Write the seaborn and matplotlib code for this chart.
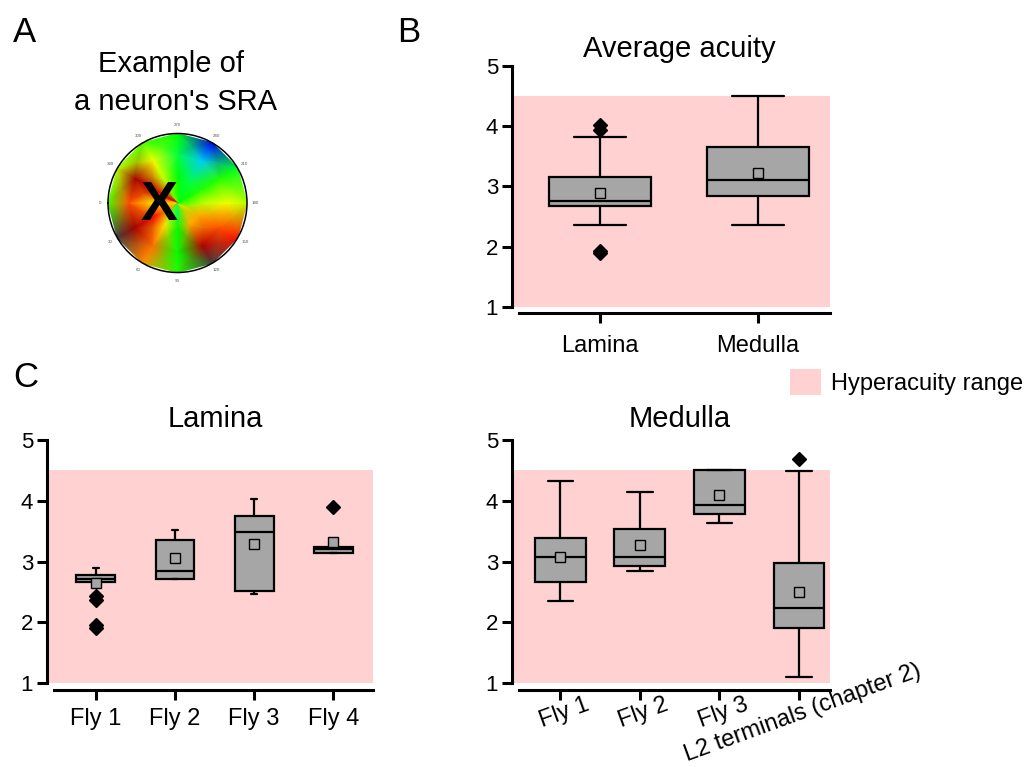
import numpy as np
import pandas as pd
import matplotlib
matplotlib.use("Agg")
import matplotlib.pyplot as plt
from matplotlib.colors import LinearSegmentedColormap
import seaborn as sns

# ---------------------------------------------------------------------------
# Data
# ---------------------------------------------------------------------------
region_labels = ["Lamina", "Medulla"]
lamina_fly_labels = ["Fly 1", "Fly 2", "Fly 3", "Fly 4"]
medulla_fly_labels = ["Fly 1", "Fly 2", "Fly 3", "L2 terminals (chapter 2)"]

# Average acuity of every recorded neuron, pooled per neuropil
lamina_all = [1.90, 1.93, 2.36, 2.67, 2.68, 2.70, 2.76, 2.76, 2.77, 3.15, 3.82, 3.93, 4.01]
medulla_all = [2.35, 2.60, 2.84, 2.95, 3.11, 3.30, 3.65, 3.68, 4.50]

# Acuity split by fly
lamina_fly1 = [1.91, 1.95, 2.37, 2.44, 2.66, 2.71, 2.72, 2.72, 2.72,
               2.77, 2.78, 2.78, 2.78, 2.88, 2.89, 2.90, 2.90]
lamina_fly2 = [2.71, 2.71, 2.72, 2.80, 2.85, 3.30, 3.36, 3.48, 3.52]
lamina_fly3 = [2.46, 2.49, 2.52, 3.43, 3.49, 3.60, 3.75, 3.85, 4.02]
lamina_fly4 = [3.14, 3.14, 3.20, 3.23, 3.89]

medulla_fly1 = [2.35, 2.50, 2.67, 2.90, 3.07, 3.15, 3.38, 3.38, 4.32]
medulla_fly2 = [2.84, 2.88, 2.92, 3.00, 3.07, 3.30, 3.54, 3.74, 4.14]
medulla_fly3 = [3.63, 3.70, 3.78, 3.86, 3.93, 4.50, 4.50, 4.50, 4.50]
medulla_l2 = [1.10, 1.30, 1.60, 1.91, 1.95, 2.05, 2.24, 2.30, 2.50,
              2.97, 3.41, 4.49, 4.68]

hyperacuity_range = (1.0, 4.5)
acuity_ticks = [1, 2, 3, 4, 5]

# Example spatial receptive-field acuity (SRA) map of one neuron:
# value per direction (deg) and normalised radius
sra_theta_deg = [0, 30, 60, 90, 120, 150, 180, 210, 240, 270, 300, 330, 360]
sra_radius = [0.0, 0.35, 0.7, 1.0]
sra_values = [
    # r=0   r=.35  r=.7  r=1
    [0.70, 0.68, 0.78, 0.55],   # 0
    [0.68, 0.82, 0.95, 1.05],   # 30
    [0.48, 0.68, 0.76, 0.74],   # 60
    [0.42, 0.50, 0.50, 0.52],   # 90
    [0.55, 0.72, 0.93, 1.06],   # 120
    [0.62, 0.72, 0.78, 0.82],   # 150
    [0.52, 0.62, 0.66, 0.62],   # 180
    [0.50, 0.52, 0.52, 0.48],   # 210
    [0.50, 0.45, 0.30, 0.14],   # 240
    [0.52, 0.50, 0.46, 0.50],   # 270
    [0.55, 0.62, 0.66, 0.55],   # 300
    [0.90, 0.88, 0.95, 0.62],   # 330
    [0.70, 0.68, 0.78, 0.55],   # 360
]

# ---------------------------------------------------------------------------
# Style
# ---------------------------------------------------------------------------
sns.set_style("ticks")
plt.rcParams["font.family"] = ["Liberation Sans", "DejaVu Sans"]
for key in ("text.color", "axes.labelcolor", "axes.edgecolor",
            "xtick.color", "ytick.color"):
    plt.rcParams[key] = "black"

BOX_GRAY = "#a6a6a6"
PINK = "#ffd1d1"
W, H = 1029, 767

fig = plt.figure(figsize=(W / 100, H / 100), dpi=100)


def fx(px):
    return px / W


def fy(py):
    return 1 - py / H


def rect(left, top, right, bottom):
    return [fx(left), fy(bottom), fx(right) - fx(left), fy(top) - fy(bottom)]


def acuity_boxes(ax, groups, labels, width, xlim, capwidth=None,
                 rotate=False):
    df = pd.DataFrame({
        "group": np.concatenate([[lab] * len(g) for lab, g in zip(labels, groups)]),
        "acuity": np.concatenate(groups),
    })
    kw = {}
    if capwidth is not None:
        kw["capwidths"] = capwidth
    sns.boxplot(
        data=df, x="group", y="acuity", order=labels, ax=ax,
        color=BOX_GRAY, saturation=1, width=width, linewidth=1.6,
        linecolor="black", showmeans=True,
        meanprops=dict(marker="s", markerfacecolor=BOX_GRAY,
                       markeredgecolor="black", markersize=6.5,
                       markeredgewidth=1.0),
        flierprops=dict(marker="D", markerfacecolor="black",
                        markeredgecolor="black", markersize=6.8),
        **kw,
    )
    span_artist = ax.axhspan(*hyperacuity_range, color=PINK, lw=0, zorder=0,
                             label="Hyperacuity range")
    if ax.get_legend() is not None:
        ax.get_legend().remove()
    ax.set_xlim(*xlim)
    ax.set_ylim(1, 5)
    ax.set_yticks(acuity_ticks)
    ax.set_xlabel("")
    ax.set_ylabel("")
    ax.set_facecolor("none")
    sns.despine(ax=ax)
    for side in ("left", "bottom"):
        ax.spines[side].set_linewidth(2.2)
    ax.spines["bottom"].set_position(("outward", 4.5))
    span = xlim[1] - xlim[0]
    ax.spines["bottom"].set_bounds(xlim[0] + span * 0.022, xlim[1])
    ax.tick_params(axis="both", direction="out", length=7, width=2.2,
                   color="black")
    ax.tick_params(axis="y", labelsize=16, pad=3)
    ax.tick_params(axis="x", labelsize=17, pad=2.5 if rotate else 6.5)
    if rotate:
        plt.setp(ax.get_xticklabels(), rotation=20, ha="center",
                 rotation_mode="anchor", va="top")
    return span_artist


# ---------------------------------------------------------------------------
# Panel B: pooled acuity
# ---------------------------------------------------------------------------
ax_b = fig.add_axes(rect(512, 65.5, 830, 307))
hyper_patch = acuity_boxes(ax_b, [lamina_all, medulla_all], region_labels,
                           0.65, (-0.557, 1.456))
ax_b.tick_params(axis="x", pad=9)

# ---------------------------------------------------------------------------
# Panel C: per-fly acuity
# ---------------------------------------------------------------------------
ax_cl = fig.add_axes(rect(47, 439.7, 373, 683.3))
acuity_boxes(ax_cl, [lamina_fly1, lamina_fly2, lamina_fly3, lamina_fly4],
             lamina_fly_labels, 0.49, (-0.615, 3.5), capwidth=0.08)

ax_cr = fig.add_axes(rect(512, 439.7, 830, 683.3))
acuity_boxes(ax_cr, [medulla_fly1, medulla_fly2, medulla_fly3, medulla_l2],
             medulla_fly_labels, 0.64, (-0.607, 3.39), rotate=True)

# ---------------------------------------------------------------------------
# Panel A: example SRA map
# ---------------------------------------------------------------------------
sra_cmap = LinearSegmentedColormap.from_list(
    "sra", ["#0000c0", "#0000ff", "#00ffff", "#00ff00", "#ffff00",
            "#ff0000", "#800000"])
sra_cmap.set_over("#404040")

cx, cy, rad = 177.5, 203, 69.5
ax_a = fig.add_axes(rect(cx - rad, cy - rad, cx + rad, cy + rad),
                    projection="polar")
theta_grid, r_grid = np.meshgrid(np.deg2rad(sra_theta_deg), sra_radius,
                                 indexing="ij")
ax_a.pcolormesh(theta_grid, r_grid, np.array(sra_values), cmap=sra_cmap,
                vmin=0, vmax=1, shading="gouraud")
ax_a.set_theta_zero_location("W")
ax_a.set_theta_direction(1)
ax_a.set_ylim(0, 1)
ax_a.set_yticks([])
ax_a.set_xticks(np.deg2rad(sra_theta_deg[:-1]))
ax_a.set_xticklabels([str(t) for t in sra_theta_deg[:-1]], fontsize=3.2,
                     color="#555555")
ax_a.tick_params(axis="x", length=0, pad=-1)
ax_a.grid(False)
ax_a.spines["polar"].set_linewidth(1.1)
fig.text(fx(159.5), fy(220), "X", fontsize=40, fontweight="bold",
         ha="center", va="baseline")

# ---------------------------------------------------------------------------
# Titles, panel letters, legend
# ---------------------------------------------------------------------------
fig.text(fx(171), fy(71.5), "Example of", fontsize=21, ha="center",
         va="baseline")
fig.text(fx(175), fy(109.5), "a neuron's SRA", fontsize=21, ha="center",
         va="baseline")
fig.text(fx(679), fy(57), "Average acuity", fontsize=21, ha="center",
         va="baseline")
fig.text(fx(215), fy(427), "Lamina", fontsize=21, ha="center", va="baseline")
fig.text(fx(680), fy(427), "Medulla", fontsize=21, ha="center", va="baseline")

for letter, x, y in [("A", 13, 42), ("B", 397, 42), ("C", 13, 387)]:
    fig.text(fx(x), fy(y), letter, fontsize=25, ha="left", va="baseline")

fig.legend([hyper_patch], [hyper_patch.get_label()], loc="upper left",
           bbox_to_anchor=(fx(790), fy(369)), frameon=False, fontsize=17,
           handlelength=1.3, handleheight=1.3, handletextpad=0.45,
           borderpad=0, borderaxespad=0)

fig.savefig("out.png", dpi=100)
